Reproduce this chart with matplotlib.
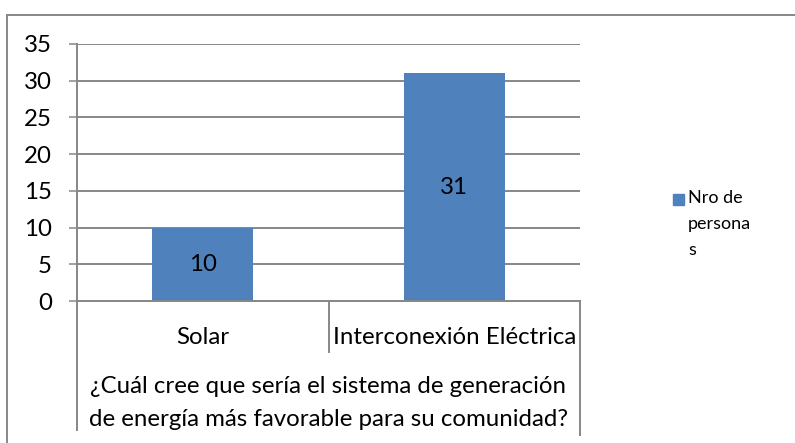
import matplotlib.pyplot as plt
from matplotlib.lines import Line2D
from matplotlib.patches import Rectangle

# data
categories = ['Solar', 'Interconexión Eléctrica']
values = [10, 31]
series_name = 'Nro de\npersona\ns'
axis_title = '¿Cuál cree que sería el sistema de generación\nde energía más favorable para su comunidad?'
yticks = [0, 5, 10, 15, 20, 25, 30, 35]

plt.rcParams['font.family'] = ['Lato', 'DejaVu Sans']
W, H = 795, 443
fig = plt.figure(figsize=(W / 100, H / 100), dpi=100)

def fx(px):
    return px / W

def fy(py):
    return 1 - py / H

grey = '#878787'
blue = '#4F81BD'
fs = 17.3

# outer chart border (top and left only visible)
fig.add_artist(Line2D([fx(7), 1], [fy(14.5), fy(14.5)], color=grey, lw=1.4))
fig.add_artist(Line2D([fx(7), fx(7)], [fy(14.5), 0], color=grey, lw=1.4))

ax = fig.add_axes([fx(77), fy(301), fx(580) - fx(77), fy(44) - fy(301)])
x = list(range(len(categories)))
bars = ax.bar(x, values, width=0.4, color=blue, zorder=3)
ax.set_xlim(-0.5, len(categories) - 0.5)
ax.set_ylim(0, 35)
ax.set_yticks(yticks)
ax.tick_params(axis='y', length=6, width=1.1, color=grey, labelsize=fs, pad=12)
ax.set_xticks([])
for s in ['top', 'right', 'bottom']:
    ax.spines[s].set_visible(False)
ax.spines['left'].set_color(grey)
ax.spines['left'].set_linewidth(1.4)
ax.grid(axis='y', color=grey, lw=1.4, zorder=0)
ax.set_axisbelow(True)

for b, v in zip(bars, values):
    ax.text(b.get_x() + b.get_width() / 2, v / 2, str(v), ha='center', va='center',
            fontsize=fs, zorder=4)

# multi-level category box below the axis
ax.plot([-0.5, 1.5], [0, 0], color=grey, lw=1.4, clip_on=False, zorder=5)
fig.add_artist(Line2D([fx(77), fx(77)], [fy(301), fy(430)], color=grey, lw=1.4))
fig.add_artist(Line2D([fx(328.5), fx(328.5)], [fy(301), fy(352)], color=grey, lw=1.4))
fig.add_artist(Line2D([fx(580), fx(580)], [fy(301), fy(435)], color=grey, lw=1.4))

for i, c in enumerate(categories):
    cx = 77 + (i + 0.5) * (580 - 77) / len(categories)
    fig.text(fx(cx), fy(338), c, ha='center', va='center', fontsize=fs)

fig.text(fx(328.5), fy(403), axis_title, ha='center', va='center', fontsize=fs,
         linespacing=1.65)

# legend
fig.add_artist(Rectangle((fx(673), fy(205)), fx(11), 11 / H, color=blue,
                         transform=fig.transFigure))
fig.text(fx(688), fy(224), series_name, ha='left', va='center', fontsize=13,
         linespacing=1.75)

fig.savefig('out.png', dpi=100)
